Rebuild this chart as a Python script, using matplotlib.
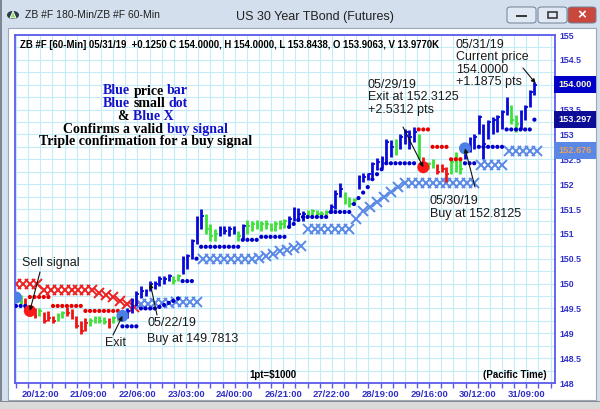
import numpy as np
import matplotlib
matplotlib.use('agg')
import matplotlib.pyplot as plt
from matplotlib.patches import Rectangle, FancyBboxPatch, Circle, Polygon
from matplotlib.transforms import blended_transform_factory

# 60-min bars, sampled every 2 hours (low, high, close) and bar colour
lo = [149.62, 149.58, 149.45, 149.35, 149.30, 149.35, 149.20, 149.25, 149.20, 149.25,
      149.30, 149.35, 149.28, 149.10, 148.98, 149.05, 149.15, 149.20, 149.20, 149.18,
      149.10, 149.20, 149.25, 149.25, 149.30, 149.40, 149.55, 149.70, 149.75, 149.85,
      149.90, 149.95, 150.00, 150.05, 150.00, 150.05, 150.20, 150.30, 150.50, 150.80,
      151.10, 151.00, 150.85, 150.85, 150.95, 151.00, 150.95, 151.00, 150.85, 150.90,
      151.00, 151.05, 151.10, 151.05, 151.10, 151.05, 151.05, 151.10, 151.12, 151.15,
      151.25, 151.30, 151.25, 151.34, 151.38, 151.36, 151.34, 151.38, 151.42, 151.50,
      151.75, 151.60, 151.54, 151.58, 151.90, 152.05, 152.08, 152.15, 152.28, 152.32,
      152.45, 152.55, 152.58, 152.70, 152.80, 152.70, 152.85, 152.50, 152.30, 152.30,
      152.32, 152.20, 152.25, 152.05, 152.20, 152.25, 152.20, 152.50, 152.65, 152.70,
      153.00, 152.50, 152.90, 153.00, 153.05, 153.10, 153.40, 153.20, 153.05, 153.10,
      153.30, 153.55, 153.80]
hi = [149.82, 149.78, 149.70, 149.55, 149.50, 149.50, 149.42, 149.45, 149.35, 149.40,
      149.45, 149.52, 149.48, 149.35, 149.25, 149.30, 149.30, 149.35, 149.35, 149.32,
      149.30, 149.35, 149.45, 149.40, 149.50, 149.70, 149.85, 149.95, 149.90, 150.05,
      150.05, 150.15, 150.15, 150.20, 150.15, 150.20, 150.55, 150.60, 150.90, 151.35,
      151.50, 151.40, 151.20, 151.10, 151.15, 151.15, 151.15, 151.15, 151.05, 151.20,
      151.28, 151.25, 151.28, 151.25, 151.28, 151.22, 151.25, 151.28, 151.30, 151.35,
      151.55, 151.52, 151.45, 151.48, 151.50, 151.48, 151.46, 151.48, 151.60, 151.88,
      152.02, 151.85, 151.75, 151.72, 152.18, 152.22, 152.22, 152.45, 152.52, 152.56,
      152.90, 152.88, 152.90, 153.00, 153.10, 153.08, 153.15, 153.00, 152.55, 152.45,
      152.50, 152.40, 152.40, 152.35, 152.50, 152.65, 152.55, 152.80, 152.95, 153.00,
      153.40, 153.20, 153.30, 153.35, 153.40, 153.50, 153.75, 153.60, 153.40, 153.50,
      153.60, 153.90, 154.05]
cl = [149.70, 149.62, 149.50, 149.40, 149.35, 149.45, 149.25, 149.30, 149.25, 149.35,
      149.40, 149.40, 149.30, 149.15, 149.05, 149.20, 149.25, 149.30, 149.25, 149.22,
      149.15, 149.30, 149.40, 149.35, 149.45, 149.65, 149.80, 149.85, 149.85, 150.00,
      150.00, 150.10, 150.10, 150.15, 150.05, 150.15, 150.50, 150.55, 150.85, 151.30,
      151.35, 151.10, 150.95, 151.00, 151.10, 151.05, 151.10, 151.05, 150.95, 151.15,
      151.15, 151.20, 151.15, 151.20, 151.20, 151.10, 151.20, 151.20, 151.25, 151.30,
      151.50, 151.40, 151.40, 151.40, 151.45, 151.40, 151.40, 151.44, 151.55, 151.80,
      151.90, 151.65, 151.60, 151.68, 152.15, 152.15, 152.20, 152.40, 152.45, 152.50,
      152.85, 152.75, 152.65, 152.95, 153.05, 152.95, 153.05, 152.55, 152.35, 152.40,
      152.45, 152.25, 152.30, 152.20, 152.45, 152.55, 152.30, 152.75, 152.90, 152.95,
      153.35, 152.80, 153.25, 153.30, 153.35, 153.45, 153.55, 153.30, 153.20, 153.45,
      153.55, 153.85, 154.00]
bar_col = ('ggrrrgrrrggrrrrrggggrggg' + 'b' * 10 + 'gg' + 'b' * 5 + 'ggg' + 'bbbb' + 'g' + 'b'
           + 'g' * 9 + 'bbbb' + 'g' * 5 + 'bbb' + 'ggg' + 'b' * 8 + 'g' + 'bbbb' + 'g' + 'r'
           + 'gg' + 'rrr' + 'ggg' + 'b' * 10 + 'gg' + 'bbbb')

# small dots (stop line), same 2-hour steps
dots = ([149.55] * 3 + [149.73] * 5 + [149.55] * 7 + [149.45] * 8 + [149.14] * 4 + [149.5] * 4
        + [149.53, 149.57, 149.61, 149.65, 149.70] + [150.05] * 3 + [150.5] + [150.74] * 9
        + [150.88] * 4 + [150.94] * 6 + [151.14, 151.20, 151.28] + [151.34] * 6 + [151.44] * 5
        + [151.60, 151.72, 151.83, 151.94] + [152.10, 152.20, 152.30] + [152.42] * 7
        + [153.10] * 3 + [152.75] * 4 + [152.50] * 3 + [152.42] * 3 + [152.75] * 6
        + [153.10] * 6 + [153.297])
dot_col = 'b' * 3 + 'r' * 20 + 'b' * 64 + 'r' * 10 + 'b' * 16

# X markers from the 180-min chart (every 3 hours)
xs = ([150.0] * 4 + [149.87] * 8 + [149.82, 149.78, 149.72, 149.65, 149.58, 149.52]
      + [149.58, 149.58, 149.6, 149.6, 149.6, 149.62, 149.62, 149.62, 149.62] + [150.5] * 8
      + [150.52, 150.56, 150.60, 150.65, 150.68, 150.72, 150.76] + [151.1] * 7
      + [151.30, 151.45, 151.55, 151.65, 151.75, 151.85, 151.95] + [152.02] * 11
      + [152.38] * 4 + [152.676] * 5)
x_col = 'r' * 18 + 'b' * 58

# big signal dots (bar index, price, colour)
sig_i = [0, 3, 23, 88, 97]
sig_p = [149.72, 149.45, 149.35, 152.34, 152.72]
sig_c = ['b', 'r', 'b', 'r', 'b']

tick_labels = ['20/12:00', '21/09:00', '22/06:00', '23/03:00', '24/00:00', '26/21:00',
               '27/22:00', '28/19:00', '29/16:00', '30/12:00', '31/09:00']

BAR = {'b': '#0a0ad8', 'g': '#3fe03a', 'r': '#ee1414'}
DOT = {'b': '#0000c8', 'r': '#e80000'}
XC = {'b': '#5a88e6', 'r': '#ee2020'}
BIG = {'b': '#4a7fe4', 'r': '#ff1818'}
AXC = '#5b5bea'
LBL = '#3030c8'

plt.rcParams['font.family'] = ['Liberation Sans', 'DejaVu Sans']

W, H = 600, 409
fig = plt.figure(figsize=(6, 4.09), dpi=100)
fig.patch.set_facecolor('#d3dfed')


def fx(x):
    return x / W


def fy(y):
    return 1 - y / H


def chrome(p):
    p.set_zorder(-5)
    fig.add_artist(p)


# window chrome
chrome(Rectangle((0, 0), fx(2), 1, transform=fig.transFigure, fc='#7d8794', ec='none'))
chrome(Rectangle((0, 0), 1, fy(401), transform=fig.transFigure, fc='#dadada', ec='none'))
chrome(Rectangle((0, fy(402)), 1, 1 / H, transform=fig.transFigure, fc='#8a8a8a', ec='none'))
chrome(Rectangle((fx(8), fy(400)), fx(596) - fx(8), fy(28) - fy(400),
                 transform=fig.transFigure, fc='white', ec='#9aa8b8', lw=0.8))
for x0, x1, fc in [(507, 536, '#dfe8f3'), (538, 567, '#dfe8f3'), (568, 596, '#c9473c')]:
    chrome(FancyBboxPatch((fx(x0), fy(23)), fx(x1) - fx(x0), fy(7) - fy(23),
                          boxstyle='round,pad=0,rounding_size=0.006',
                          transform=fig.transFigure, fc=fc, ec='#6f7f94', lw=0.7))
chrome(Rectangle((fx(516), fy(17)), fx(11), 2 / H, transform=fig.transFigure,
                 fc='#3a3a3a', ec='none'))
chrome(Rectangle((fx(548), fy(18)), fx(9), 6 / H, transform=fig.transFigure,
                 fc='none', ec='#3a3a3a', lw=1.2))
fig.text(fx(582), fy(15), '×', color='white', fontsize=11, fontweight='bold',
         ha='center', va='center')
chrome(Circle((fx(13), fy(15)), 6 / W, transform=fig.transFigure, fc='#2b3a4a', ec='none'))
chrome(Polygon([(fx(10), fy(18)), (fx(16), fy(18)), (fx(13), fy(11))], closed=True,
               transform=fig.transFigure, fc='#8ee060', ec='white', lw=0.6))
fig.text(fx(25), fy(15), 'ZB #F 180-Min/ZB #F 60-Min', fontsize=7.5, color='#202020', va='center')
fig.text(fx(315), fy(17), 'US 30 Year TBond (Futures)', fontsize=9, color='#202020',
         ha='center', va='center')

# main price pane
ax = fig.add_axes([fx(15), fy(383), 540 / W, 348 / H])
ax.set_facecolor('white')
hours = np.arange(len(lo)) * 2
xh = np.arange(len(xs)) * 3

ax.set_xlim(-0.43, 232.9)
ax.set_ylim(148, 155)

ax.vlines(hours, lo, hi, colors=[BAR[c] for c in bar_col], lw=2.0, zorder=3)
ax.hlines(cl, hours, hours + 1.2, colors=[BAR[c] for c in bar_col], lw=1.3, zorder=3)
ax.scatter(hours, dots, s=9, c=[DOT[c] for c in dot_col], linewidths=0, zorder=4)
for c in 'rb':
    k = [j for j, cc in enumerate(x_col) if cc == c]
    ax.plot(xh[k], np.array(xs)[k], ls='none', marker='x', ms=6.5, mew=1.4, color=XC[c], zorder=2)
ax.scatter(hours[sig_i], sig_p, s=75, c=[BIG[c] for c in sig_c], linewidths=0, zorder=5)

major = 10.5 + 21 * np.arange(len(tick_labels))
ax.set_xticks(major, tick_labels)
ax.set_xticks(np.arange(0, 233, 5.25), minor=True)
yt = np.arange(148, 155.01, 0.5)
# the "154" label sits fully under the current-price box
ax.set_yticks(yt, ['' if v == 154 else f'{v:g}' for v in yt])
ax.set_yticks(np.arange(148, 155.01, 0.25), minor=True)
ax.yaxis.tick_right()
ax.grid(which='both', color='#c4ecf6', lw=0.8, zorder=0)
ax.set_axisbelow(True)
for s in ax.spines.values():
    s.set_color(AXC)
    s.set_linewidth(1.3)
ax.tick_params(axis='x', which='both', direction='out', length=3.5, width=1, color=AXC,
               labelsize=6.8, labelcolor=LBL, pad=1.5)
ax.tick_params(axis='y', which='both', length=0, labelsize=6.3, labelcolor=LBL, pad=3)
for t in ax.get_xticklabels() + ax.get_yticklabels():
    t.set_fontweight('bold')

# value boxes on the price scale
tr = blended_transform_factory(ax.transAxes, ax.transData)
for val, txt, fc, tc in [(cl[-1], '154.000', '#0000c8', '#ffffc8'),
                         (dots[-1], '153.297', '#0c0c96', 'white'),
                         (xs[-1], '152.676', '#5a88e6', '#e8a060')]:
    ax.text(1.006, val, txt, transform=tr, fontsize=6.6, fontweight='bold', color=tc,
            va='center', ha='left', clip_on=False,
            bbox=dict(boxstyle='square,pad=0.45', fc=fc, ec='none'), zorder=6)

ax.text(0.009, 0.971, 'ZB #F [60-Min] 05/31/19  +0.1250 C 154.0000, H 154.0000, L 153.8438, '
        'O 153.9063, V 13.9770K', transform=ax.transAxes, fontsize=6.9, fontweight='bold',
        va='center', ha='left')
ax.text(0.478, 0.023, r'1pt=\$1000', transform=ax.transAxes, fontsize=7, fontweight='bold',
        va='center', ha='center')
ax.text(0.985, 0.023, '(Pacific Time)', transform=ax.transAxes, fontsize=7, fontweight='bold',
        va='center', ha='right')

# annotations
notes = [(['05/31/19', 'Current price', '154.0000', '+1.1875 pts'], 456, 45, 12.4),
         (['05/29/19', 'Exit at 152.3125', '+2.5312 pts'], 368, 85, 12.5),
         (['05/30/19', 'Buy at 152.8125'], 430, 201, 12.5),
         (['Sell signal'], 22, 263, 12),
         (['Exit'], 105, 343, 12),
         (['05/22/19', 'Buy at 149.7813'], 147, 323, 16)]
for lines, x0, y0, dy in notes:
    for k, s in enumerate(lines):
        fig.text(fx(x0), fy(y0 + k * dy), s, fontsize=9, color='#1a1a1a', va='center', ha='left')

arrows = [((hours[-1] + 0.5, cl[-1] + 0.03), (523, 68)),
          ((hours[88], sig_p[3]), (403, 127)),
          ((hours[97], sig_p[4]), (475, 187)),
          ((hours[3], sig_p[1]), (40, 272)),
          ((hours[23], sig_p[2]), (113, 335)),
          ((hours[29], cl[29]), (157, 315))]
for head, (tx, ty) in arrows:
    ax.annotate('', xy=head, xycoords='data', xytext=(fx(tx), fy(ty)), textcoords='figure fraction',
                arrowprops=dict(arrowstyle='-|>', color='#111111', lw=0.8, mutation_scale=6,
                                shrinkA=0, shrinkB=0), zorder=7)

# mixed-colour serif legend block
BLUE_TXT = '#1212c8'
block = [[('Blue', BLUE_TXT), ('price', 'black'), ('bar', BLUE_TXT)],
         [('Blue', BLUE_TXT), ('small', 'black'), ('dot', BLUE_TXT)],
         [('&', 'black'), ('Blue X', BLUE_TXT)],
         [('Confirms a valid', 'black'), ('buy signal', BLUE_TXT)],
         [('Triple confirmation for a buy signal', 'black')]]
block_base = [94.5, 107, 119.7, 132.5, 145.1]
rend = fig.canvas.get_renderer()
font = dict(fontsize=10, fontweight='bold', family=['Liberation Serif', 'DejaVu Serif'])


def width(s):
    t = fig.text(0, 0, s, **font)
    w = t.get_window_extent(rend).width
    t.remove()
    return w


wI = width('I')
for segs, yb in zip(block, block_base):
    words = [s for s, c in segs]
    total = width(' '.join(words))
    x0 = 145.5 - total / 2
    for k, (s, c) in enumerate(segs):
        off = width(' '.join(words[:k]) + ' I') - wI if k else 0
        fig.text(fx(x0 + off), fy(yb), s, color=c, va='baseline', ha='left', **font)

fig.savefig('out.png', dpi=100)
